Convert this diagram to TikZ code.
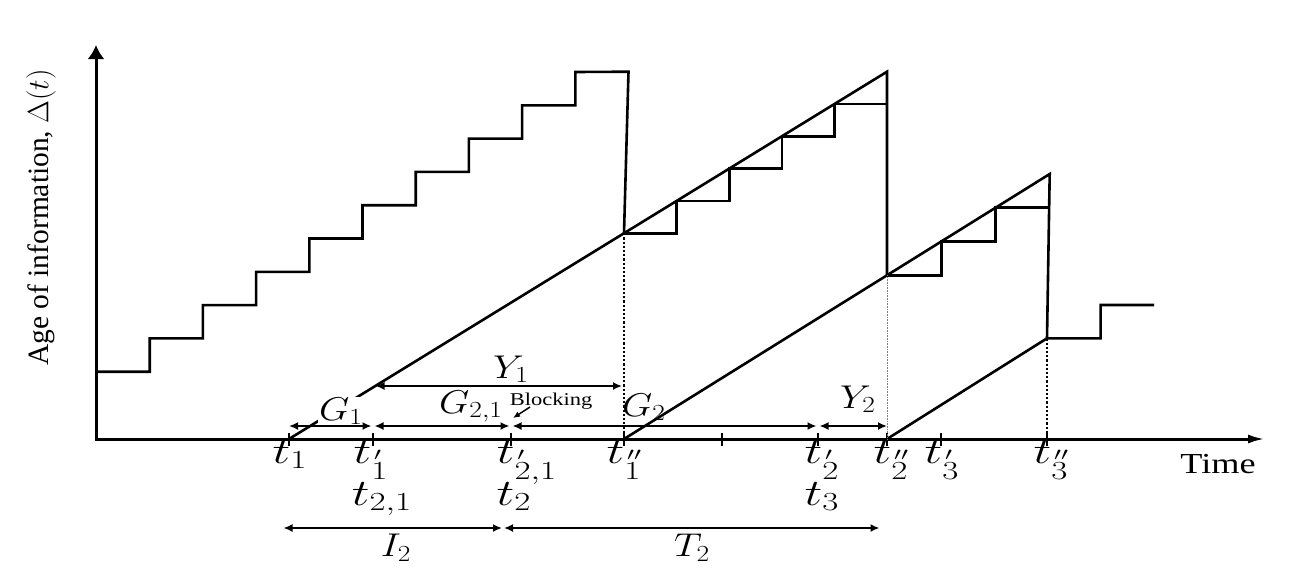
\RequirePackage{fix-cm}
\documentclass[tikz,border=0pt]{standalone}
\usepackage{fontspec}
\setmainfont{Liberation Serif}
\usetikzlibrary{arrows.meta,calc}
\newcommand{\wide}[1]{\scalebox{1.25}[1]{#1}}
\newcommand{\mwide}[1]{\scalebox{1.45}[1.22]{#1}}
\newcommand{\twide}[1]{\scalebox{1.85}[1.38]{#1}}
\newcommand{\tpr}[2]{t_{\rlap{\kern1.5pt\raisebox{13.5pt}{$\scriptscriptstyle#2$}}#1}}

\begin{document}
\begin{tikzpicture}[x=1pt, y=-1pt,
  ax/.style={line width=3pt},
  ln/.style={line width=2.6pt, line join=miter},
  vdot/.style={dotted, line width=2.2pt},
  tk/.style={line width=2pt},
  dbl/.style={{Latex[length=9pt,width=8pt]}-{Latex[length=9pt,width=8pt]}, line width=2.2pt},
  lab/.style={font=\fontsize{27}{30}\selectfont, inner sep=0pt, anchor=base}]
\useasboundingbox (0,0) rectangle (1298,582);

\coordinate (O) at (96,439);
\coordinate (ytop) at (96,45);
\coordinate (xend) at (1265,439);
\coordinate (t1) at (289,439);
\coordinate (t1p) at (373,439);
\coordinate (t21p) at (511,439);
\coordinate (t1pp) at (624,439);
\coordinate (tm) at (722,439);
\coordinate (t2p) at (818,439);
\coordinate (t2pp) at (887,439);
\coordinate (t3p) at (941,439);
\coordinate (t3pp) at (1047,439);
\coordinate (P1) at (624,233.2);
\coordinate (Q1) at (887,71.7);
\coordinate (P2) at (887,275.3);
\coordinate (Q2) at (1049.7,174);
\coordinate (P3) at (1047,338.3);

\draw[ax, -{Latex[length=14pt,width=17pt]}] ([yshift=-1.5pt]O) -- (ytop);
\draw[ax, -{Latex[length=17pt,width=9pt]}] ([xshift=-1.5pt]O) -- (xend);
\foreach \t in {t1,t1p,t21p,t1pp,tm,t2p,t2pp,t3p,t3pp}
  \draw[tk] ([yshift=6pt]\t) -- ([yshift=-7pt]\t);

\draw[ln] (96,371.7) \foreach \k in {1,...,9} { -| ({149.7+53.2*(\k-1)},{371.7-33.3*\k}) } -- (628.5,71.7) -- (P1);

\draw[ln] (t1) -- (Q1) -- (P2);
\foreach \k in {1,...,4} \coordinate (a\k) at ($(P1)!\k/5!(Q1)$);
\draw[ln] (P1) -| (a1) -| (a2) -| (a3) -| (a4) -- (a4 -| Q1);

\draw[ln] (t1pp) -- (Q2) -- (P3);
\foreach \k in {1,2} \coordinate (b\k) at ($(P2)!\k/3!(Q2)$);
\draw[ln] (P2) -| (b1) -| (b2) -- (b2 -| Q2);

\draw[ln] (t2pp) -- (P3) -- (1100.6,338.3) -- (1100.6,305) -- (1154,305);

\draw[vdot] (P1) -- (t1pp);
\draw[vdot] (P3) -- (t3pp);
\draw[gray, line width=0.6pt, densely dotted] (P2) -- (t2pp);

\node[rotate=90, font=\fontsize{29.5}{32}\selectfont] (ylab) at (41,217.5) {Age of information, $\Delta(t)$};
\node[anchor=base, font=\fontsize{29}{31}\selectfont] (time) at (1218,473) {\wide{Time}};

\node[lab] (lt1) at (290,463) {\twide{$t_1$}};
\node[lab] (lt1p) at (371,463) {\twide{$\tpr{1}{\prime}$}};
\node[lab] (lt21) at (382,505) {\twide{$t_{2,1}$}};
\node[lab] (lt21p) at (527,463) {\twide{$\tpr{2,1}{\prime}$}};
\node[lab] (lt2) at (514,505) {\twide{$t_2$}};
\node[lab] (lt1pp) at (624,463) {\twide{$\tpr{1}{\prime\prime}$}};
\node[lab] (lt2p) at (822,463) {\twide{$\tpr{2}{\prime}$}};
\node[lab] (lt3) at (822,505) {\twide{$t_3$}};
\node[lab] (lt2pp) at (891,463) {\twide{$\tpr{2}{\prime\prime}$}};
\node[lab] (lt3p) at (942,463) {\twide{$\tpr{3}{\prime}$}};
\node[lab] (lt3pp) at (1051,463) {\twide{$\tpr{3}{\prime\prime}$}};

\node[lab, fill=white, inner sep=1pt] (g1) at (341,420) {\mwide{$G_1$}};
\node[lab] (g21) at (471,413) {\mwide{$G_{2,1}$}};
\node[lab] (g2) at (644,416) {\mwide{$G_2$}};
\node[lab] (y1) at (511,378) {\mwide{$Y_1$}};
\node[lab] (y2) at (858,408) {\mwide{$Y_2$}};
\node[anchor=base, font=\fontsize{18}{20}\selectfont, inner sep=0pt] (blk) at (551,405.5) {\wide{Blocking}};
\node[lab] (i2) at (396,556.5) {\mwide{$I_2$}};
\node[lab] (tt2) at (692,556.5) {\mwide{$T_2$}};

\draw[dbl, shorten >=1.5pt] ([yshift=13pt]t1) -- ([yshift=13pt]t1p);
\draw[dbl, shorten <=1.5pt, shorten >=1.5pt] ([yshift=13pt]t1p) -- ([yshift=13pt]t21p);
\draw[dbl, shorten <=1.5pt, shorten >=1.5pt] ([yshift=13pt]t21p) -- ([yshift=13pt]t2p);
\draw[dbl, shorten <=1.5pt] ([yshift=13pt]t2p) -- ([yshift=13pt]t2pp);

\coordinate (y1a) at (375.5,386);
\draw[dbl, shorten >=2pt] (y1a) -- (y1a -| P1);

\coordinate (bk) at (530,407);
\coordinate (bke) at (513,418);
\draw[line width=1.5pt, -{Latex[length=7pt,width=6pt]}] (bk) -- (bke);

\coordinate (i2a) at (283.5,528);
\coordinate (i2m) at (503,528);
\coordinate (i2e) at (879.5,528);
\draw[dbl, shorten >=1pt] (i2a) -- (i2m);
\draw[dbl, shorten <=1pt] (i2m) -- (i2e);
\end{tikzpicture}
\end{document}
